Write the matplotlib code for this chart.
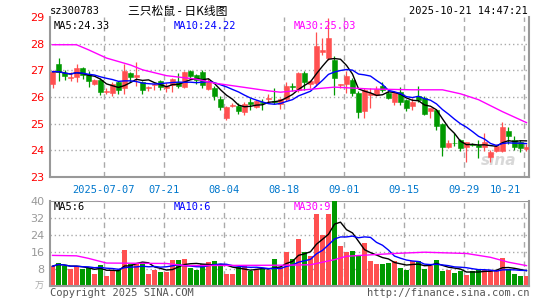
import numpy as np
import pandas as pd
import matplotlib
matplotlib.use("Agg")
from matplotlib import pyplot as plt

plt.rcParams["font.family"] = ["DejaVu Sans", "Noto Sans CJK SC"]

# daily candles, 2025-06-24 .. 2025-10-21
opens = [26.49, 27.24, 26.90, 26.72, 26.74, 27.09, 26.86, 26.50, 26.63, 26.18,
         26.16, 26.58, 26.32, 26.90, 26.74, 26.57, 26.34, 26.44, 26.60, 26.33,
         26.44, 26.58, 26.39, 26.99, 26.82, 26.95, 26.29, 26.35, 25.94, 25.21,
         25.66, 25.67, 25.43, 25.80, 25.64, 25.82, 25.93, 25.85, 25.75, 25.92,
         26.40, 26.27, 26.90, 26.48, 26.52, 27.69, 27.46, 27.37, 26.44, 26.48,
         26.65, 26.15, 25.46, 26.06, 26.06, 26.43, 26.15, 25.83, 26.20, 25.87,
         25.67, 26.05, 25.96, 25.46, 25.52, 24.98, 24.14, 24.28, 24.39, 24.12,
         24.22, 24.20, 24.12, 23.76, 23.98, 23.98, 24.73, 24.39, 24.30, 24.05]
highs = [27.02, 27.47, 27.00, 26.92, 27.24, 27.12, 26.99, 26.68, 26.70, 26.32,
         26.55, 26.60, 27.24, 26.93, 27.30, 26.60, 26.43, 26.53, 26.64, 26.53,
         26.72, 26.90, 26.99, 27.03, 26.85, 27.03, 26.70, 26.41, 26.04, 25.66,
         25.76, 25.76, 25.83, 25.95, 25.89, 25.92, 26.10, 26.35, 25.95, 26.55,
         26.52, 26.95, 26.97, 26.63, 28.42, 28.20, 28.97, 27.52, 26.50, 26.96,
         26.72, 26.22, 26.34, 26.34, 26.40, 26.55, 26.24, 26.21, 26.39, 25.91,
         25.96, 26.43, 26.03, 25.60, 25.56, 25.01, 24.40, 24.64, 24.43, 24.33,
         24.27, 24.40, 24.65, 24.02, 24.23, 25.06, 24.89, 24.52, 24.39, 24.22]
lows = [26.32, 26.60, 26.64, 26.60, 26.55, 26.67, 26.39, 26.45, 26.08, 26.10,
        26.03, 26.11, 26.11, 26.58, 26.40, 26.13, 26.22, 26.25, 26.26, 26.17,
        26.17, 26.32, 26.32, 26.66, 26.48, 26.32, 26.27, 25.90, 25.50, 25.13,
        25.63, 25.35, 25.34, 25.53, 25.59, 25.52, 25.80, 25.72, 25.55, 25.85,
        26.22, 26.20, 26.27, 26.33, 26.40, 27.58, 27.40, 26.06, 26.33, 26.15,
        26.02, 25.23, 25.21, 25.60, 26.02, 26.20, 25.94, 25.70, 25.70, 25.47,
        25.52, 25.80, 25.33, 25.23, 24.77, 23.80, 24.08, 24.15, 23.97, 23.58,
        24.15, 23.73, 23.98, 23.58, 23.95, 23.93, 24.23, 24.02, 23.92, 23.98]
closes = [26.95, 26.95, 26.80, 26.75, 27.10, 26.82, 26.60, 26.63, 26.20, 26.21,
          26.48, 26.27, 26.99, 26.76, 26.82, 26.27, 26.37, 26.47, 26.39, 26.42,
          26.67, 26.42, 26.92, 26.80, 26.65, 26.46, 26.58, 26.04, 25.63, 25.63,
          25.70, 25.49, 25.72, 25.72, 25.85, 25.76, 25.96, 25.82, 25.92, 26.40,
          26.37, 26.90, 26.58, 26.60, 27.92, 27.78, 28.20, 26.71, 26.47, 26.77,
          26.15, 25.43, 26.27, 26.15, 26.30, 26.27, 25.98, 26.15, 25.82, 25.60,
          25.83, 25.90, 25.36, 25.58, 24.93, 24.14, 24.27, 24.26, 24.10, 24.30,
          24.20, 24.14, 24.30, 23.95, 24.17, 24.87, 24.52, 24.14, 24.10, 24.14]
# volume, 10k lots
volumes = [9.3, 11.0, 9.3, 7.8, 9.3, 7.8, 8.6, 5.8, 10.0, 4.9,
           7.7, 7.4, 17.1, 10.2, 10.5, 11.0, 5.8, 7.4, 6.7, 6.7,
           12.1, 12.1, 12.9, 8.6, 7.4, 10.5, 11.3, 11.9, 9.7, 5.8,
           5.8, 8.9, 9.6, 7.1, 7.8, 7.8, 7.7, 12.5, 9.1, 16.0,
           12.5, 22.0, 16.1, 14.0, 33.8, 24.0, 33.8, 40.0, 18.6, 16.1,
           16.4, 14.2, 20.2, 11.7, 10.4, 10.4, 11.0, 11.8, 8.6, 7.5,
           11.8, 11.8, 8.0, 9.4, 12.2, 7.1, 7.5, 6.0, 7.1, 5.2,
           7.1, 7.5, 7.5, 7.5, 7.5, 13.0, 8.0, 5.6, 4.7, 4.7]

# 30-day averages (they need history before the window)
ma30_idx = [0, 4, 6, 9, 13, 15, 19, 24, 27, 32, 36, 38, 42, 47, 53, 60, 65, 68, 71, 75, 79]
ma30_price = [27.96, 27.96, 27.77, 27.46, 27.20, 27.02, 26.80, 26.67, 26.52, 26.36, 26.23,
              26.18, 26.27, 26.37, 26.30, 26.27, 26.27, 26.12, 25.90, 25.45, 25.04]
vma30_idx = [0, 4, 6, 9, 19, 22, 39, 43, 47, 49, 52, 57, 62, 69, 73, 76, 79]
vma30 = [14.4, 14.2, 13.0, 10.8, 10.6, 9.6, 9.8, 10.0, 12.4, 14.0, 14.5, 15.3, 15.9,
         15.3, 13.5, 11.2, 9.6]

grid_idx = [9, 19, 29, 39, 49, 59, 69, 79]
date_labels = ["2025-07-07", "07-21", "08-04", "08-18", "09-01", "09-15", "09-29", "10-21"]

RED = "#ff5050"
GREEN = "#009900"
GRID = "#aaaaaa"
FRAME = "#999999"
MONO = "DejaVu Sans Mono"

n = len(closes)
x = np.arange(n)
o = np.array(opens)
c = np.array(closes)
up = c >= o
colors = [RED if u else GREEN for u in up]
ma5 = pd.Series(closes).rolling(5, min_periods=1).mean()
ma10 = pd.Series(closes).rolling(10, min_periods=1).mean()
vma5 = pd.Series(volumes).rolling(5, min_periods=1).mean()
vma10 = pd.Series(volumes).rolling(10, min_periods=1).mean()

W, H = 545, 300
fig = plt.figure(figsize=(W / 100, H / 100), dpi=100)


def px(xp, yp):
    return xp / W, 1 - yp / H


xlim = (-0.417, 79.42)
ax = fig.add_axes([50 / W, 1 - 177 / H, 479 / W, 160 / H])
axv = fig.add_axes([50 / W, 1 - 286 / H, 479 / W, 85 / H])

for a in (ax, axv):
    a.set_xlim(*xlim)
    for gi in grid_idx:
        a.axvline(gi - 0.42, color=GRID, lw=1, dashes=(4, 3), zorder=0)
    a.set_xticks([])
    a.spines["top"].set_visible(False)
    for s in ("left", "bottom", "right"):
        a.spines[s].set_color(FRAME)
        a.spines[s].set_linewidth(1.5)
    a.tick_params(axis="y", length=0, pad=4)

# price panel
ax.set_ylim(23, 29)
for lvl in [24, 25, 26, 27, 28]:
    ax.axhline(lvl, color=GRID, lw=1, dashes=(1, 2), zorder=0)
ax.set_yticks([23, 24, 25, 26, 27, 28, 29])
ax.set_yticklabels(["23", "24", "25", "26", "27", "28", "29"], color="red", fontsize=8)

ax.vlines(x, lows, highs, colors=colors, lw=0.9, zorder=2)
body_h = np.maximum(np.abs(c - o), 0.02)
ax.bar(x, body_h, bottom=np.minimum(o, c), width=0.83, color=colors,
       edgecolor=colors, linewidth=0.4, zorder=3)
ax.plot(x, ma5, color="black", lw=1, zorder=4)
ax.plot(x, ma10, color="blue", lw=1, zorder=4)
ax.plot(ma30_idx, ma30_price, color="magenta", lw=1, zorder=4)

ax.text(0.2, 28.85, "MA5:24.33", color="black", fontsize=7.5, family=MONO, va="top")
ax.text(20.2, 28.85, "MA10:24.22", color="blue", fontsize=7.5, family=MONO, va="top")
ax.text(40.2, 28.85, "MA30:25.03", color="magenta", fontsize=7.5, family=MONO, va="top")
ax.text(77.3, 23.62, "sina", color="#d8d8d8", fontsize=11, style="italic",
        fontweight="bold", ha="right", va="center", zorder=1)

# date labels under the price panel
for gi, lab in zip(grid_idx, date_labels):
    xx = gi - 0.42 if gi != 79 else 75.4
    ax.text(xx, 22.7, lab, color="#0077cc", fontsize=7.5, family=MONO,
            ha="center", va="top")

# volume panel
axv.set_ylim(0, 40)
for lvl in [8, 16, 24, 32]:
    axv.axhline(lvl, color=GRID, lw=1, dashes=(1, 2), zorder=0)
axv.axhline(40, color=FRAME, lw=1.5, zorder=1)
axv.set_yticks([8, 16, 24, 32, 40])
axv.set_yticklabels(["8", "16", "24", "32", "40"], color="#999999", fontsize=8)
axv.bar(x, volumes, width=0.83, color=colors, zorder=2)
axv.plot(x, vma5, color="black", lw=1, zorder=4)
axv.plot(x, vma10, color="blue", lw=1, zorder=4)
axv.plot(vma30_idx, vma30, color="magenta", lw=1, zorder=4)
axv.text(0.2, 39.3, "MA5:6", color="black", fontsize=7.5, family=MONO, va="top")
axv.text(20.2, 39.3, "MA10:6", color="blue", fontsize=7.5, family=MONO, va="top")
axv.text(40.2, 39.3, "MA30:9", color="magenta", fontsize=7.5, family=MONO, va="top")

# header and footer
fig.text(*px(50, 11), "sz300783", fontsize=7.5, family=MONO, va="center")
fig.text(*px(178, 11), "三只松鼠 - 日K线图", fontsize=8.5,
         family=["Noto Sans CJK SC", "DejaVu Sans"], ha="center", va="center")
fig.text(*px(528, 11), "2025-10-21 14:47:21", fontsize=7.5, family=MONO,
         ha="right", va="center")
fig.text(*px(44, 286), "万", fontsize=6.5, color="#aaaaaa",
         family=["Noto Sans CJK SC", "DejaVu Sans"], ha="right", va="center")
fig.text(*px(50, 293), "Copyright 2025 SINA.COM", fontsize=7.5, family=MONO,
         color="#555555", va="center")
fig.text(*px(529, 293), "http://finance.sina.com.cn", fontsize=7.5, family=MONO,
         color="#555555", ha="right", va="center")

fig.savefig("out.png", dpi=100)
